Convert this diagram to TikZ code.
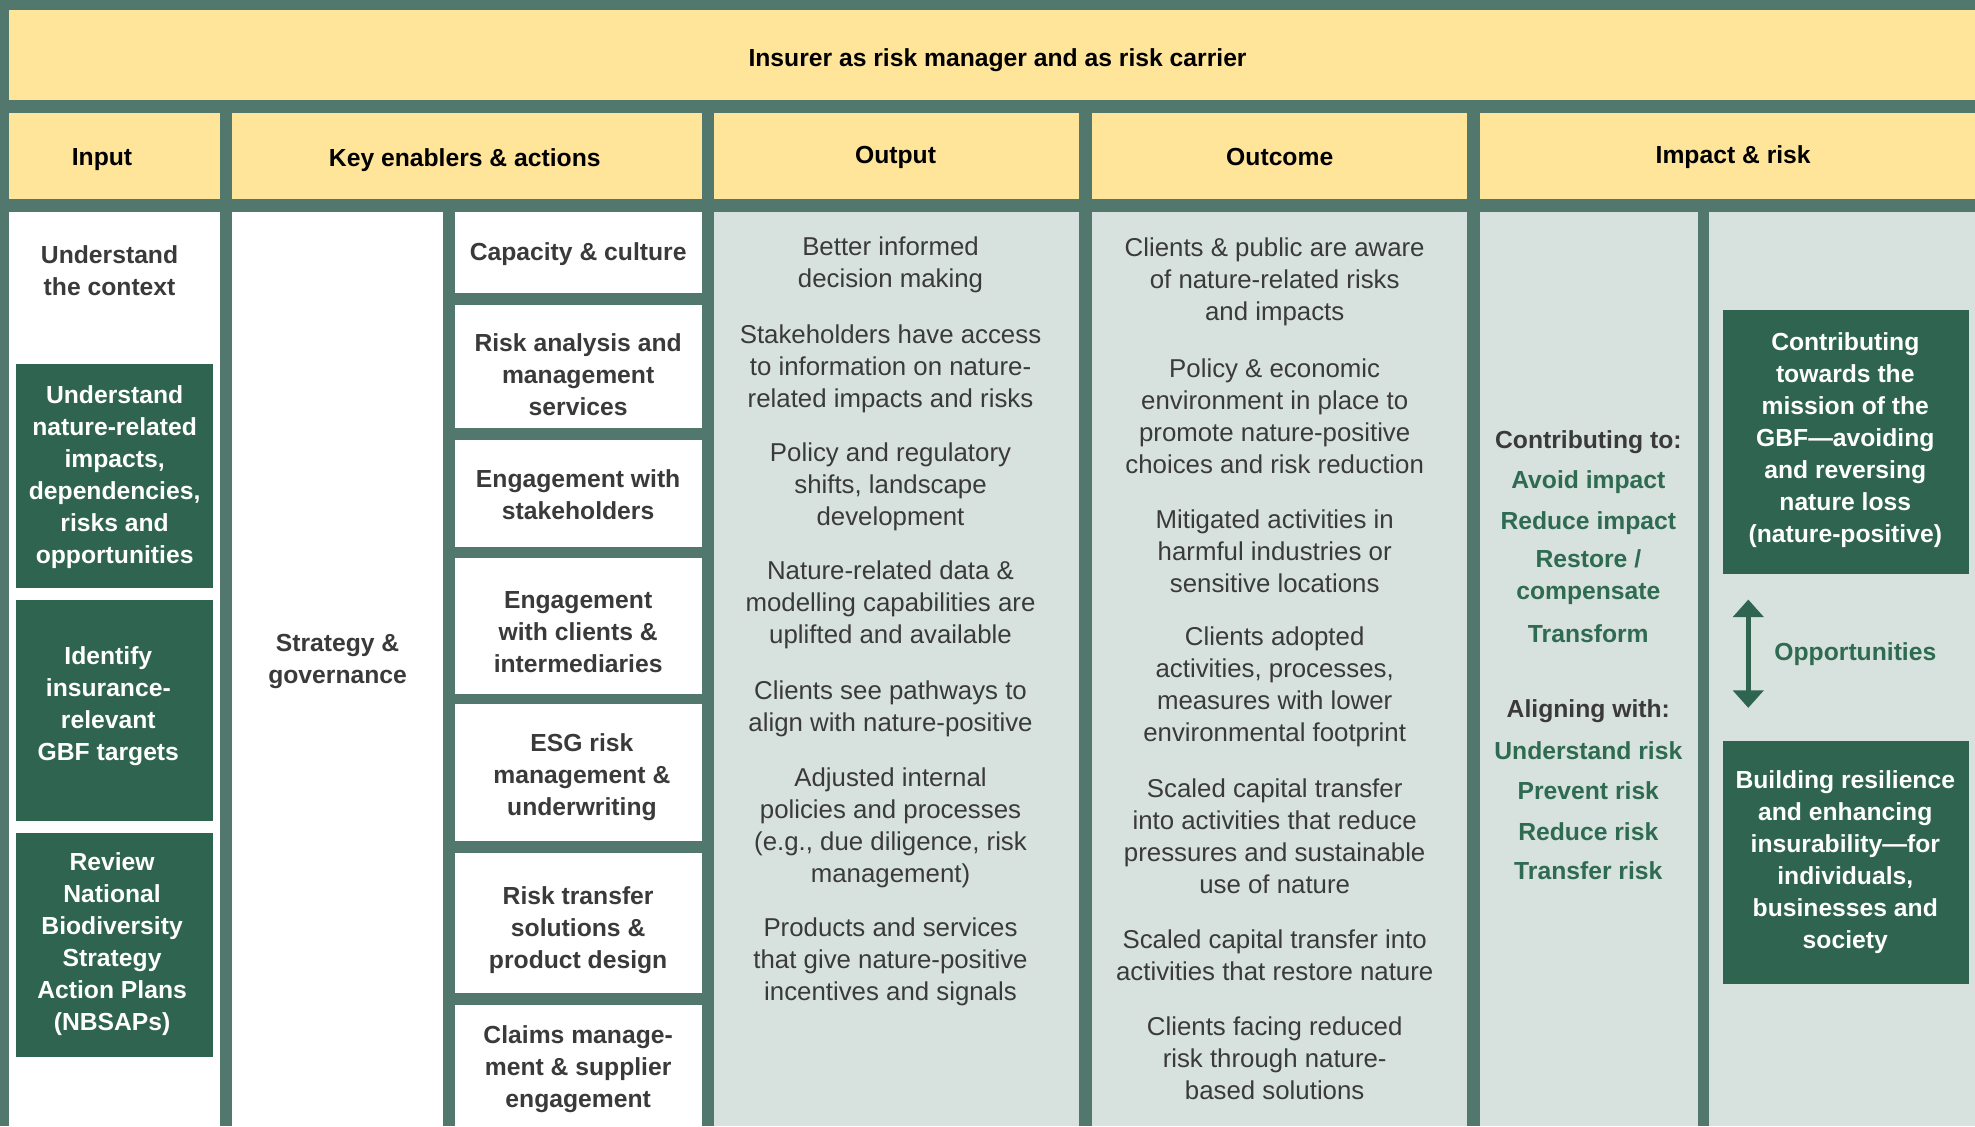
\documentclass[tikz,border=0pt]{standalone}
\usepackage{fontspec}
\setmainfont{Liberation Sans}
\usetikzlibrary{arrows.meta}
\definecolor{bg}{HTML}{52776D}
\definecolor{yel}{HTML}{FFE599}
\definecolor{pan}{HTML}{D7E1DD}
\definecolor{dg}{HTML}{2E6450}
\definecolor{gt}{HTML}{2E6B52}
\definecolor{tx}{HTML}{3A3A3A}
\begin{document}
\begin{tikzpicture}[x=1pt,y=-1pt,
  txtbase/.style={inner sep=0pt, yshift=-2pt, align=center},
  hdr/.style={txtbase, font=\fontsize{19.6}{25.4}\selectfont\bfseries, text=black},
  bt/.style={txtbase, font=\fontsize{19.6}{25.4}\selectfont\bfseries, text=tx},
  wt/.style={txtbase, font=\fontsize{19.6}{25.4}\selectfont\bfseries, text=white},
  lt/.style={txtbase, font=\fontsize{20.5}{25.4}\selectfont, text=tx},
  gr/.style={txtbase, font=\fontsize{19.6}{25.4}\selectfont\bfseries, text=gt},
  yelbox/.style={fill=yel},
  panbox/.style={fill=pan},
  whbox/.style={fill=white},
  dgbox/.style={fill=dg},
  opparrow/.style={draw=dg, line width=4pt, {Triangle[width=24pt,length=14pt]}-{Triangle[width=24pt,length=14pt]}}
]
\useasboundingbox (0,0) rectangle (1568,894);
\fill[bg] (0,0) rectangle (1568,894);
% title band
\fill[yelbox] (7,8) rectangle (1568,79);
\node[hdr] (title) at (792,46) {Insurer as risk manager and as risk carrier};
% header row
\fill[yelbox] (7,90) rectangle (175,158);
\fill[yelbox] (184,90) rectangle (557,158);
\fill[yelbox] (567,90) rectangle (857,158);
\fill[yelbox] (867,90) rectangle (1165,158);
\fill[yelbox] (1175,90) rectangle (1568,158);
\node[hdr] (hInput) at (81,125) {Input};
\node[hdr] (hKey) at (369,125) {Key enablers \& actions};
\node[hdr] (hOut) at (711,123) {Output};
\node[hdr] (hOutc) at (1016,123) {Outcome};
\node[hdr] (hImp) at (1376,123) {Impact \& risk};
% body columns
\fill[whbox] (7,168) rectangle (175,894);
\fill[whbox] (184,168) rectangle (352,894);
\fill[panbox] (567,168) rectangle (857,894);
\fill[panbox] (867,168) rectangle (1165,894);
\fill[panbox] (1175,168) rectangle (1348,894);
\fill[panbox] (1357,168) rectangle (1568,894);
% enabler boxes
\fill[whbox] (361,168) rectangle (557,233);
\fill[whbox] (361,242) rectangle (557,340);
\fill[whbox] (361,349) rectangle (557,434);
\fill[whbox] (361,443) rectangle (557,551);
\fill[whbox] (361,559) rectangle (557,668);
\fill[whbox] (361,677) rectangle (557,788);
\fill[whbox] (361,798) rectangle (557,894);
% input dark boxes
\fill[dgbox] (13,289) rectangle (169,467);
\fill[dgbox] (13,476) rectangle (169,652);
\fill[dgbox] (13,661) rectangle (169,839);
% impact dark boxes
\fill[dgbox] (1368,246) rectangle (1563,456);
\fill[dgbox] (1368,588) rectangle (1563,781);

% Input texts
\node[bt] (in0) at (87,212.5) {Understand\\the context};
\node[wt] (in1) at (91,376.5) {Understand\\nature-related\\impacts,\\dependencies,\\risks and\\opportunities};
\node[wt] (in2) at (86,559) {Identify\\insurance-\\relevant\\GBF targets};
\node[wt] (in3) at (89,747.5) {Review\\National\\Biodiversity\\Strategy\\Action Plans\\(NBSAPs)};
% Strategy
\node[bt] (strat) at (268,523) {Strategy \&\\governance};
% Enablers
\node[bt] (e1) at (459,200) {Capacity \& culture};
\node[bt] (e2) at (459,295.5) {Risk analysis and\\management\\services};
\node[bt] (e3) at (459,390.5) {Engagement with\\stakeholders};
\node[bt] (e4) at (459,500) {Engagement\\with clients \&\\intermediaries};
\node[bt] (e5) at (462,615) {ESG risk\\management \&\\underwriting};
\node[bt] (e6) at (459,736.5) {Risk transfer\\solutions \&\\product design};
\node[bt] (e7) at (459,846.5) {Claims manage-\\ment \& supplier\\engagement};
% Output
\node[lt] (o1) at (707,208.5) {Better informed\\decision making};
\node[lt] (o2) at (707,290.5) {Stakeholders have access\\to information on nature-\\related impacts and risks};
\node[lt] (o3) at (707,384.5) {Policy and regulatory\\shifts, landscape\\development};
\node[lt] (o4) at (707,478.5) {Nature-related data \&\\modelling capabilities are\\uplifted and available};
\node[lt] (o5) at (707,560.5) {Clients see pathways to\\align with nature-positive};
\node[lt] (o6) at (707,655) {Adjusted internal\\policies and processes\\(e.g., due diligence, risk\\management)};
\node[lt] (o7) at (707,761.5) {Products and services\\that give nature-positive\\incentives and signals};
% Outcome
\node[lt] (c1) at (1012,221.5) {Clients \& public are aware\\of nature-related risks\\and impacts};
\node[lt] (c2) at (1012,328.5) {Policy \& economic\\environment in place to\\promote nature-positive\\choices and risk reduction};
\node[lt] (c3) at (1012,435.5) {Mitigated activities in\\harmful industries or\\sensitive locations};
\node[lt] (c4) at (1012,543) {Clients adopted\\activities, processes,\\measures with lower\\environmental footprint};
\node[lt] (c5) at (1012,662) {Scaled capital transfer\\into activities that reduce\\pressures and sustainable\\use of nature};
\node[lt] (c6) at (1012,756.5) {Scaled capital transfer into\\activities that restore nature};
\node[lt] (c7) at (1012,838.5) {Clients facing reduced\\risk through nature-\\based solutions};
% Impact column 1
\node[bt] (ctl) at (1261,349) {Contributing to:};
\node[gr] (i1) at (1261,381) {Avoid impact};
\node[gr] (i2) at (1261,413) {Reduce impact};
\node[gr] (i3) at (1261,456.5) {Restore /\\compensate};
\node[gr] (i4) at (1261,501) {Transform};
\node[bt] (alw) at (1261,563) {Aligning with:};
\node[gr] (r1) at (1261,594) {Understand risk};
\node[gr] (r2) at (1261,626) {Prevent risk};
\node[gr] (r3) at (1261,658) {Reduce risk};
\node[gr] (r4) at (1261,689) {Transfer risk};
% Impact column 2
\node[wt] (gbf) at (1465,347.5) {Contributing\\towards the\\mission of the\\GBF—avoiding\\and reversing\\nature loss\\(nature-positive)};
\node[wt] (res) at (1465,682.5) {Building resilience\\and enhancing\\insurability—for\\individuals,\\businesses and\\society};
\coordinate (arrTop) at (1388,476);
\coordinate (arrBot) at (1388,562);
\draw[opparrow] (arrTop) -- (arrBot);
\node[gr] (opp) at (1473,517) {Opportunities};
\end{tikzpicture}
\end{document}
